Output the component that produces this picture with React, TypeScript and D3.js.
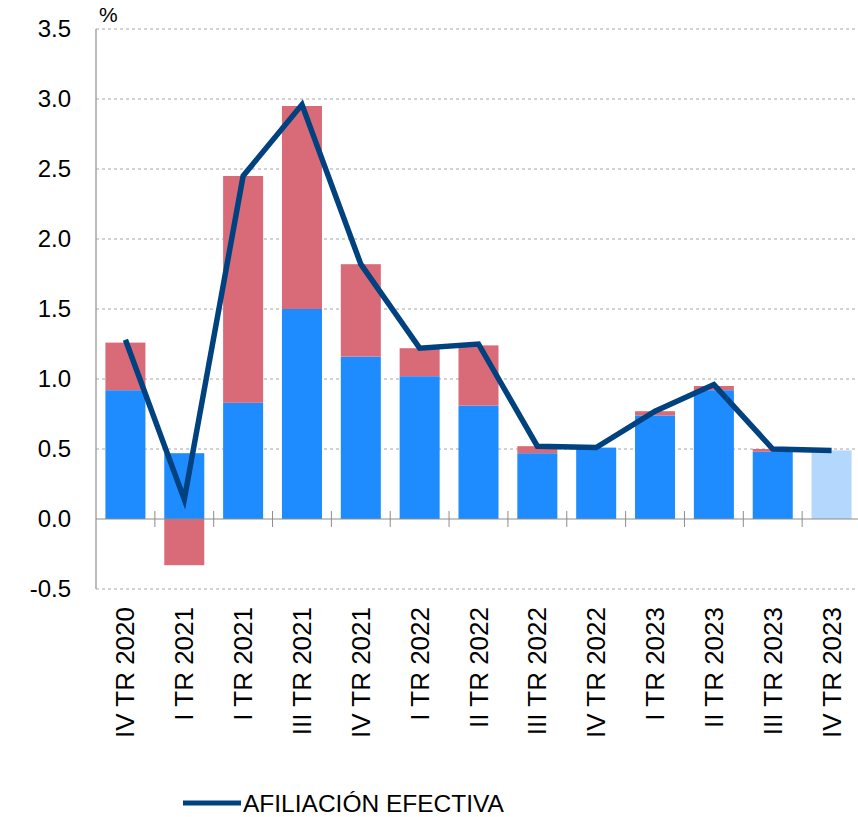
import * as d3 from 'd3'

const categories = ['IV TR 2020', 'I TR 2021', 'I TR 2021 ', 'III TR 2021', 'IV TR 2021', 'I TR 2022', 'II TR 2022', 'III TR 2022', 'IV TR 2022', 'I TR 2023', 'II TR 2023', 'III TR 2023', 'IV TR 2023']
const blueValues = [0.92, 0.47, 0.83, 1.50, 1.16, 1.02, 0.81, 0.47, 0.51, 0.74, 0.92, 0.48, 0.49]
const redValues = [0.34, -0.33, 1.62, 1.45, 0.66, 0.20, 0.43, 0.05, 0.0, 0.03, 0.03, 0.02, 0.0]
const lineValues = [1.28, 0.14, 2.45, 2.96, 1.82, 1.22, 1.25, 0.52, 0.51, 0.77, 0.96, 0.50, 0.49]
const yTicks = [-0.5, 0, 0.5, 1.0, 1.5, 2.0, 2.5, 3.0, 3.5]
const lastIsEstimate = true

const FONT = 'Liberation Sans, Arial, Helvetica, sans-serif'

export default function App() {
  const width = 858
  const height = 817
  const left = 96
  const right = 861

  const x = d3.scaleBand<string>()
    .domain(categories)
    .range([left, right])
    .paddingInner(0.32)
    .paddingOuter(0.16)
  const band = (right - left) / categories.length

  const y = d3.scaleLinear().domain([-0.5, 3.5]).range([589, 29])

  const line = d3.line<number>()
    .x((d, i) => x(categories[i])! + x.bandwidth() / 2)
    .y(d => y(d))

  // hyphen instead of unicode minus, like the original
  const fmt = (t: number) => d3.format('.1f')(t).replace('−', '-')

  return (
    <svg width={width} height={height} style={{position: 'absolute', left: 0, top: 0}}>
      {/* grid */}
      {yTicks.filter(t => t !== 0).map(t => (
        <line key={t} x1={left} x2={width} y1={y(t)} y2={y(t)} stroke="#a6a6a6" strokeWidth={1} strokeDasharray="3,3" />
      ))}
      {/* y labels */}
      {yTicks.map(t => (
        <text key={'l' + t} x={71} y={y(t)} dy="0.35em" textAnchor="end" fontFamily={FONT} fontSize={24} fill="#000">
          {fmt(t)}
        </text>
      ))}
      <text x={99} y={22} fontFamily={FONT} fontSize={21} fill="#000">%</text>

      {/* bars */}
      {categories.map((c, i) => {
        const b = blueValues[i]
        const r = redValues[i]
        const bx = x(c)!
        const est = lastIsEstimate && i === categories.length - 1
        return (
          <g key={c}>
            <rect x={bx} width={x.bandwidth()} y={y(b)} height={y(0) - y(b)} fill={est ? '#b3d7fd' : '#1e8cff'} />
            {r > 0 && <rect x={bx} width={x.bandwidth()} y={y(b + r)} height={y(b) - y(b + r)} fill="#d96b78" />}
            {r < 0 && <rect x={bx} width={x.bandwidth()} y={y(0)} height={y(r) - y(0)} fill="#d96b78" />}
          </g>
        )
      })}

      {/* axes */}
      <line x1={left} x2={left} y1={y(3.5)} y2={y(-0.5)} stroke="#a6a6a6" strokeWidth={1.5} />
      <line x1={left} x2={width} y1={y(0)} y2={y(0)} stroke="#8c8c8c" strokeWidth={1.2} />
      {categories.slice(1).map((c, i) => (
        <line key={'t' + i} x1={left + band * (i + 1)} x2={left + band * (i + 1)} y1={y(0) - 8} y2={y(0) + 8} stroke="#8c8c8c" strokeWidth={1} />
      ))}

      {/* line */}
      <path d={line(lineValues)!} fill="none" stroke="#00427f" strokeWidth={5.5} strokeLinejoin="miter" />

      {/* x labels */}
      {categories.map(c => {
        const cx = x(c)! + x.bandwidth() / 2
        return (
          <text key={'x' + c} transform={`translate(${cx + 9},607) rotate(-90)`} textAnchor="end" fontFamily={FONT} fontSize={26} fill="#000">
            {c.trim()}
          </text>
        )
      })}

      {/* legend */}
      <line x1={183} x2={241} y1={803} y2={803} stroke="#00427f" strokeWidth={5} />
      <text x={243} y={812} fontFamily={FONT} fontSize={24.5} fill="#000">AFILIACIÓN EFECTIVA</text>
    </svg>
  )
}
